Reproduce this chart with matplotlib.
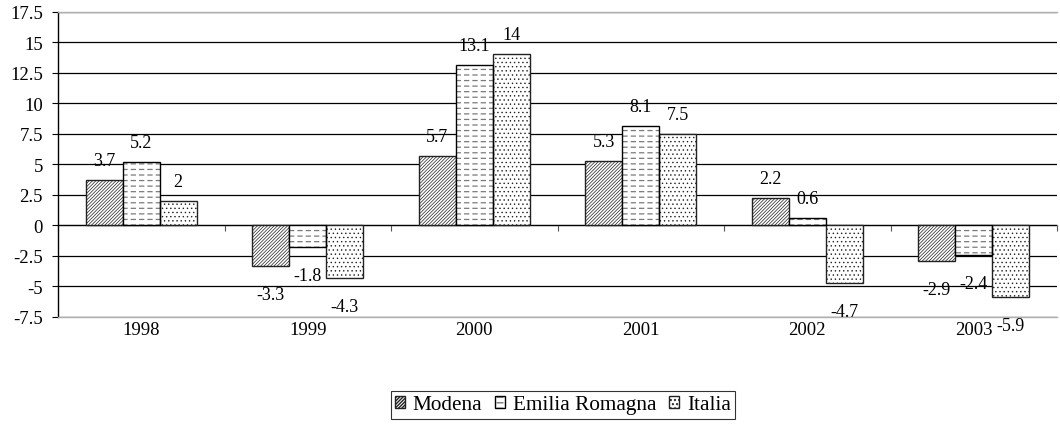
import matplotlib
matplotlib.use("Agg")
import matplotlib.pyplot as plt
import numpy as np
from matplotlib.legend_handler import HandlerTuple

years = ['1998', '1999', '2000', '2001', '2002', '2003']
modena = [3.7, -3.3, 5.7, 5.3, 2.2, -2.9]
emilia = [5.2, -1.8, 13.1, 8.1, 0.6, -2.4]
italia = [2.0, -4.3, 14.0, 7.5, -4.7, -5.9]
series_names = ['Modena', 'Emilia Romagna', 'Italia']
yticks = [-7.5, -5, -2.5, 0, 2.5, 5, 7.5, 10, 12.5, 15, 17.5]

plt.rcParams['font.family'] = ['Liberation Serif', 'DejaVu Serif']
FS = 13.5
FS_LAB = 13
FS_LEG = 15.3

fig = plt.figure(figsize=(10.6, 4.31), dpi=100)
ax = fig.add_axes([58/1060, (431-318)/431, (1057-58)/1060, (318-12.5)/431])

x = np.arange(len(years))
w = 0.222


def hlw(bars, lw):
    for p in bars:
        if hasattr(p, 'set_hatch_linewidth'):
            p.set_hatch_linewidth(lw)


# Modena: dense diagonal hatch
with plt.rc_context({'hatch.linewidth': 0.5}):
    bm = ax.bar(x - w, modena, w, facecolor='white', edgecolor='#222222',
                hatch='//////////', linewidth=1.0, zorder=3)
hlw(bm, 0.5)

# Emilia Romagna: grey dashed horizontal lines
with plt.rc_context({'hatch.linewidth': 0.9}):
    be = ax.bar(x, emilia, w, facecolor='white', edgecolor='#7a7a7a',
                hatch='---', linewidth=0, zorder=3)
hlw(be, 0.9)
with plt.rc_context({'hatch.linewidth': 2.2}):
    be2 = ax.bar(x, emilia, w, facecolor='none', edgecolor='white',
                 hatch='||', linewidth=0, zorder=3.1)
hlw(be2, 2.2)
be3 = ax.bar(x, emilia, w, facecolor='none', edgecolor='black',
             linewidth=1.0, zorder=3.2)

# Italia: sparse dots
with plt.rc_context({'hatch.linewidth': 0.5}):
    bi = ax.bar(x + w, italia, w, facecolor='white', edgecolor='#222222',
                hatch='....', linewidth=1.0, zorder=3)
hlw(bi, 0.5)

# data labels
for offs, vals in zip([-w, 0, w], [modena, emilia, italia]):
    for xi, v in zip(x, vals):
        dy = 15 if v >= 0 else -33
        ax.annotate(f'{v:g}', (xi + offs, v), xytext=(0, dy),
                    textcoords='offset pixels', ha='center', va='baseline',
                    fontsize=FS_LAB, zorder=5)

ax.set_xlim(-0.5, len(years) - 0.5)
ax.set_ylim(-7.5, 17.5)
ax.set_yticks(yticks)
ax.set_yticklabels([f'{t:g}' for t in yticks], fontsize=FS)
ax.tick_params(axis='y', direction='out', length=4.3, width=0.8, pad=6.5,
               color='black')
ax.set_xticks(x)
ax.set_xticklabels(years, fontsize=FS)
ax.tick_params(axis='x', length=0, pad=3)

ax.yaxis.grid(True, color='black', linewidth=0.9)
ax.set_axisbelow(True)
for s in ['top', 'bottom']:
    ax.spines[s].set_color('#b0b0b0')
    ax.spines[s].set_linewidth(1.0)
ax.spines['right'].set_visible(False)
ax.spines['left'].set_color('black')
ax.spines['left'].set_linewidth(1.0)

# category axis at zero with boundary tick marks
sec = ax.secondary_xaxis(7.5 / 25)
sec.set_xticks(np.arange(-0.5, len(years), 1.0))
sec.set_xticklabels([])
sec.tick_params(direction='out', length=4.5, width=0.8, color='#555555')
sec.spines['bottom'].set_color('#808080')
sec.spines['bottom'].set_linewidth(1.0)

leg = fig.legend([bm[0], (be[0], be2[0], be3[0]), bi[0]], series_names,
                 handler_map={tuple: HandlerTuple(ndivide=1, pad=0)},
                 loc='center', bbox_to_anchor=(563/1060, 1 - 406/431),
                 ncol=3, fontsize=FS_LEG, frameon=True, fancybox=False,
                 handlelength=0.47, handleheight=0.47, handletextpad=0.37,
                 columnspacing=0.6, borderpad=0.2, borderaxespad=0)
leg.get_frame().set_edgecolor('black')
leg.get_frame().set_linewidth(0.8)

fig.savefig('out.png', dpi=100)
